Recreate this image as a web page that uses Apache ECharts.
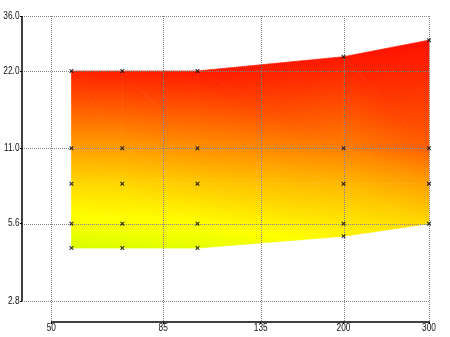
<!DOCTYPE html>
<html><head><meta charset="utf-8">
<script src="https://cdn.jsdelivr.net/npm/echarts@6/dist/echarts.min.js"></script>
<style>html,body{margin:0;padding:0;background:#fff}#c{width:450px;height:337px}</style>
</head><body><div id="c"></div>
<script>
// ---- data ----
const focalLengths = [55, 70, 100, 200, 300];
const apertures55  = [4.5, 5.6, 8, 11, 22];
const apertures70  = [4.5, 5.6, 8, 11, 22];
const apertures100 = [4.5, 5.6, 8, 11, 22];
const apertures200 = [5.0, 5.6, 8, 11, 25];
const apertures300 = [5.6, 8, 11, 29];
// colour level at each point (0 = red, 1 = yellow, 1.5 = yellow-green)
const level55  = [1.15, 1.03, 0.85, 0.63, 0.125];
const level70  = [1.13, 1.02, 0.84, 0.62, 0.12];
const level100 = [1.10, 1.00, 0.79, 0.57, 0.10];
const level200 = [0.96, 0.91, 0.72, 0.50, 0.09];
const level300 = [0.85, 0.63, 0.38, 0.06];
const xTickValues = [50, 85, 135, 200, 300];
const xTickLabels = ['50', '85', '135', '200', '300'];
const yTickValues = [2.8, 5.6, 11, 22, 36];
const yTickLabels = ['2.8', '5.6', '11.0', '22.0', '36.0'];
const xAxisRange = [43.5, 300];
const yAxisRange = [2.32, 36];
const levelStops = [0, 1, 1.5];
const levelColors = ['#ff0000', '#ffff00', '#80ff00'];

// ---- build ----
const columns = [
  { x: focalLengths[0], ys: apertures55,  s: level55 },
  { x: focalLengths[1], ys: apertures70,  s: level70 },
  { x: focalLengths[2], ys: apertures100, s: level100 },
  { x: focalLengths[3], ys: apertures200, s: level200 },
  { x: focalLengths[4], ys: apertures300, s: level300 }
];
const LN = Math.log;
const S_MIN = levelStops[0], S_MAX = levelStops[levelStops.length - 1];
const gradStops = levelStops.map((s, i) => ({ offset: (s - S_MIN) / (S_MAX - S_MIN), color: levelColors[i] }));

function levelColor(s) {
  for (let i = 0; i < levelStops.length - 1; i++) {
    if (s <= levelStops[i + 1] || i === levelStops.length - 2) {
      const t = Math.max(0, Math.min(1, (s - levelStops[i]) / (levelStops[i + 1] - levelStops[i])));
      const a = echarts.color.parse(levelColors[i]), b = echarts.color.parse(levelColors[i + 1]);
      return 'rgb(' + [0, 1, 2].map(k => Math.round(a[k] + (b[k] - a[k]) * t)).join(',') + ')';
    }
  }
}

function triFill(A, B, C) {
  const x1 = B.p[0] - A.p[0], y1 = B.p[1] - A.p[1];
  const x2 = C.p[0] - A.p[0], y2 = C.p[1] - A.p[1];
  const ds1 = B.s - A.s, ds2 = C.s - A.s;
  const det = x1 * y2 - y1 * x2;
  if (Math.abs(det) < 1e-6) return null;
  const a = (ds1 * y2 - y1 * ds2) / det;
  const b = (x1 * ds2 - ds1 * x2) / det;
  const g2 = a * a + b * b;
  if (g2 < 1e-12) return levelColor(A.s);
  const t0 = (S_MIN - A.s) / g2, t1 = (S_MAX - A.s) / g2;
  return {
    type: 'linear', global: true,
    x: A.p[0] + a * t0, y: A.p[1] + b * t0,
    x2: A.p[0] + a * t1, y2: A.p[1] + b * t1,
    colorStops: gradStops
  };
}

function renderStrip(params, api) {
  const i = api.value(0);
  const mk = col => col.ys.map((y, k) => ({ p: api.coord([LN(col.x), LN(y)]), s: col.s[k], ly: LN(y) }));
  const L = mk(columns[i]), R = mk(columns[i + 1]);
  const tris = [];
  let a = 0, b = 0;
  while (a < L.length - 1 || b < R.length - 1) {
    let advA;
    if (a === L.length - 1) advA = false;
    else if (b === R.length - 1) advA = true;
    else advA = L[a + 1].ly <= R[b + 1].ly;
    if (advA) { tris.push([L[a], R[b], L[a + 1]]); a++; }
    else { tris.push([L[a], R[b], R[b + 1]]); b++; }
  }
  const children = [];
  tris.forEach(t => {
    const f = triFill(t[0], t[1], t[2]);
    if (!f) return;
    children.push({
      type: 'polygon',
      shape: { points: [t[0].p, t[1].p, t[2].p] },
      style: { fill: f, stroke: f, lineWidth: 0.7, lineJoin: 'round' }
    });
  });
  return { type: 'group', children };
}

const xTicksLn = xTickValues.map(LN);
const yTicksLn = yTickValues.map(LN);
const xExt = xAxisRange.map(LN), yExt = yAxisRange.map(LN);
const LABEL_FONT = '10px "Liberation Sans", Arial, sans-serif';
const LABEL_SCALE = 0.83;
const GRID_COLOR = '#858585';

function renderFrame(params, api) {
  const children = [];
  const tl = api.coord([xExt[0], yExt[1]]), br = api.coord([xExt[1], yExt[0]]);
  const left = Math.round(tl[0]), top = Math.round(tl[1]);
  const right = Math.round(br[0]), bottom = Math.round(br[1]);
  // dotted grid lines, drawn as 1px dots so they stay crisp
  xTicksLn.forEach((t, i) => {
    const p0 = api.coord([t, yExt[0]]);
    const x = Math.round(p0[0]);
    for (let y = top; y < bottom; y += 2) {
      children.push({ type: 'rect', shape: { x: x, y: y, width: 1, height: 1 }, style: { fill: GRID_COLOR } });
    }
    children.push({ type: 'text', x: p0[0], y: p0[1] + 6.5, scaleX: LABEL_SCALE,
      style: { text: xTickLabels[i], font: LABEL_FONT, fill: '#111', align: 'center', verticalAlign: 'middle' } });
  });
  yTicksLn.forEach((t, i) => {
    const p0 = api.coord([xExt[0], t]);
    const y = Math.round(p0[1]);
    for (let x = left; x <= right; x += 2) {
      children.push({ type: 'rect', shape: { x: x, y: y, width: 1, height: 1 }, style: { fill: GRID_COLOR } });
    }
    children.push({ type: 'text', x: p0[0] - 2.5, y: p0[1], scaleX: LABEL_SCALE,
      style: { text: yTickLabels[i], font: LABEL_FONT, fill: '#111', align: 'right', verticalAlign: 'middle' } });
  });
  // range-frame axis lines from first to last tick
  const xa0 = api.coord([xTicksLn[0], yExt[0]]), xa1 = api.coord([xTicksLn[xTicksLn.length - 1], yExt[0]]);
  const ya0 = api.coord([xExt[0], yTicksLn[0]]), ya1 = api.coord([xExt[0], yTicksLn[yTicksLn.length - 1]]);
  const axisStyle = { stroke: '#000', lineWidth: 1.5 };
  children.push({ type: 'line', shape: { x1: Math.round(xa0[0]), y1: Math.round(xa0[1]), x2: Math.round(xa1[0]) + 1, y2: Math.round(xa1[1]) }, style: axisStyle });
  children.push({ type: 'line', shape: { x1: Math.round(ya0[0]), y1: Math.round(ya0[1]), x2: Math.round(ya1[0]), y2: Math.round(ya1[1]) }, style: axisStyle });
  return { type: 'group', children };
}

const markerData = [];
columns.forEach(col => col.ys.forEach(y => markerData.push([LN(col.x), LN(y)])));

const chart = echarts.init(document.getElementById('c'), null, { renderer: 'canvas' });
chart.setOption({
  animation: false,
  backgroundColor: '#ffffff',
  grid: { left: 22, right: 21, top: 16, bottom: 15, containLabel: false, outerBoundsMode: 'none' },
  xAxis: {
    type: 'value', min: xExt[0], max: xExt[1], z: 5,
    axisLine: { show: false, onZero: false },
    axisTick: { show: true, customValues: xTicksLn, length: 2, lineStyle: { color: '#000', width: 1 } },
    axisLabel: { show: false },
    splitLine: { show: false }
  },
  yAxis: {
    type: 'value', min: yExt[0], max: yExt[1], z: 5,
    axisLine: { show: false, onZero: false },
    axisTick: { show: true, customValues: yTicksLn, length: 2, lineStyle: { color: '#000', width: 1 } },
    axisLabel: { show: false },
    splitLine: { show: false }
  },
  series: [
    {
      type: 'custom', z: 2, silent: true,
      renderItem: renderStrip,
      data: [[0], [1], [2], [3]],
      encode: { x: -1, y: -1 }
    },
    {
      type: 'custom', z: 4, silent: true, clip: false,
      renderItem: renderFrame,
      data: [[0]],
      encode: { x: -1, y: -1 }
    },
    {
      type: 'scatter', z: 6, silent: true,
      symbol: 'path://M0,0L1,0L2.5,1.5L4,0L5,0L5,1L3.5,2.5L5,4L5,5L4,5L2.5,3.5L1,5L0,5L0,4L1.5,2.5L0,1Z',
      symbolSize: 4,
      itemStyle: { color: '#000' },
      data: markerData
    }
  ]
});
</script></body></html>
